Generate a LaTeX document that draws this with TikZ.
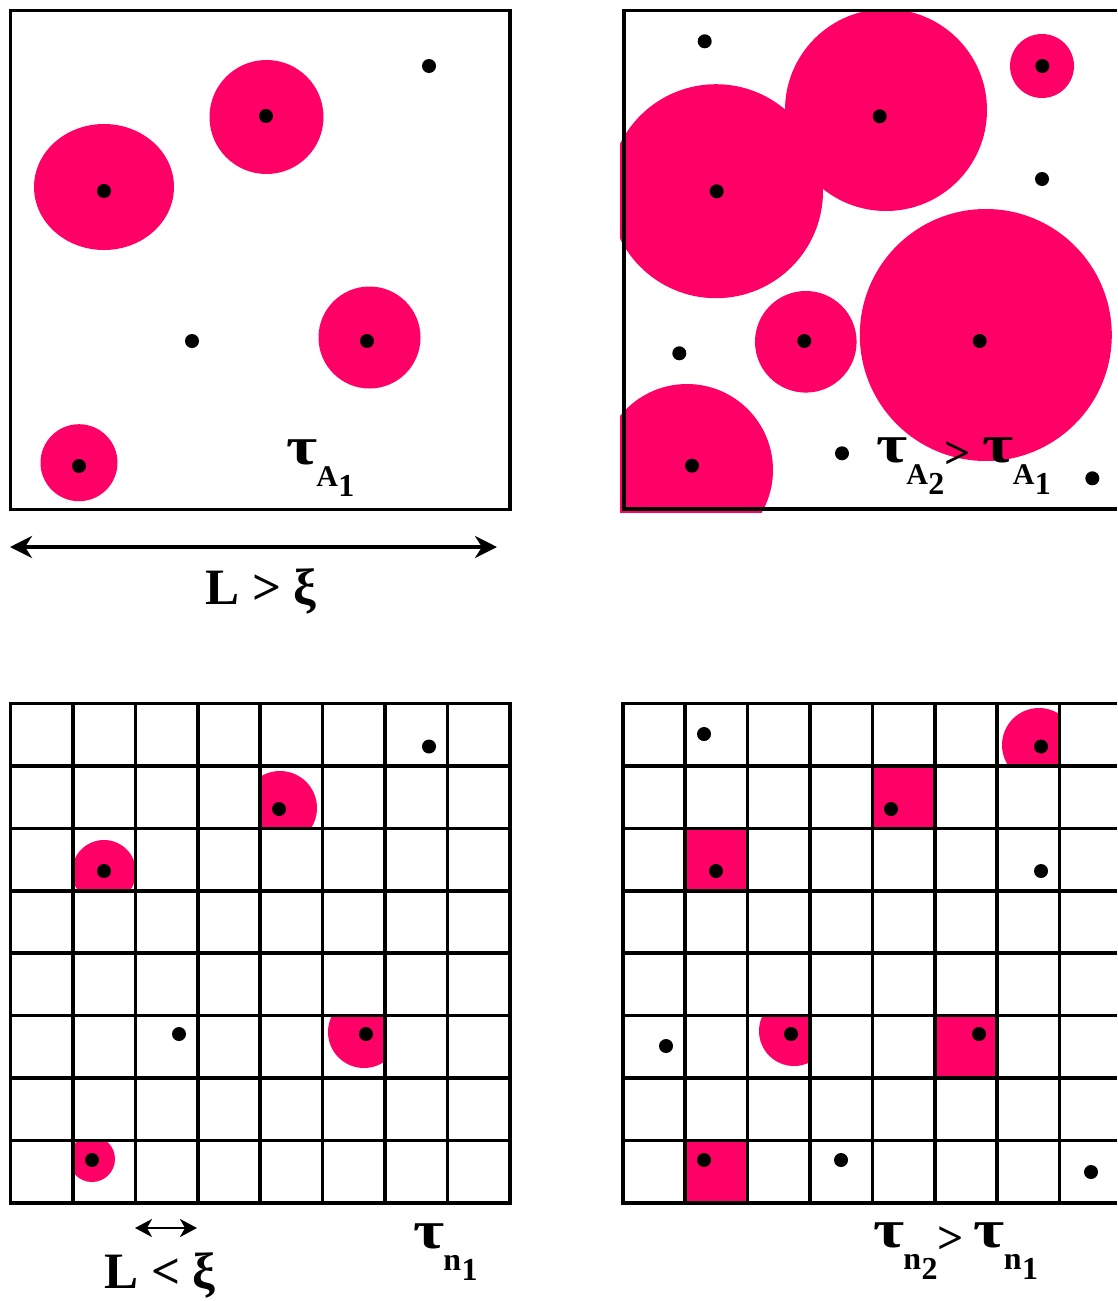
\documentclass[tikz,border=0pt]{standalone}
\usepackage{fontspec}
\setmainfont{Liberation Serif}
\usetikzlibrary{arrows.meta}
\definecolor{pinkc}{RGB}{255,0,102}
\newcommand{\taulab}[3]{\scalebox{1.25}[1]{\fontsize{54}{54}\selectfont τ}\kern-1pt\raisebox{-22pt}{\fontsize{#3}{#3}\selectfont #1}\kern0.5pt\raisebox{-32pt}{\fontsize{32}{32}\selectfont #2}}
\begin{document}
\begin{tikzpicture}[x=1pt,y=-1pt,
  frame/.style={line width=3.8pt},
  gridl/.style={line width=3.6pt},
  blob/.style={fill=pinkc},
  dotc/.style={fill=black},
  lab/.style={inner sep=0pt,font=\bfseries},
  bigarrow/.style={line width=4pt,{Stealth[length=22pt,width=22pt,inset=7pt]}-{Stealth[length=22pt,width=22pt,inset=7pt]}},
  smallarrow/.style={line width=2.6pt,{Stealth[length=17pt,width=18pt,inset=5pt]}-{Stealth[length=17pt,width=18pt,inset=5pt]}}]
\useasboundingbox (0,0) rectangle (1117,1301);
\fill[white] (0,0) rectangle (1117,1301);

% ---------- top left ----------
\fill[blob] (104,187) ellipse[x radius=70pt, y radius=63pt];
\fill[blob] (266.5,117) circle[radius=57pt];
\fill[blob] (369.5,337.5) circle[radius=51pt];
\fill[blob] (79,462.7) circle[radius=38.5pt];
\foreach \p in {(104,191),(266,116),(367,341),(79,466),(429,66),(192,341)}
  \fill[dotc] \p circle[radius=7pt];
\draw[frame] (10.5,10.5) rectangle (509.7,509.5);
\node[lab,anchor=base west] (tA1) at (286,464) {\taulab{A}{1}{30}};

% arrow L > xi
\coordinate (aL) at (10,547);
\coordinate (aR) at (497,547);
\draw[bigarrow] (aL) -- (aR);
\node[lab,anchor=base] (Lgt) at (261,604) {\fontsize{51}{51}\selectfont L > ξ};

% ---------- top right ----------
\begin{scope}
\clip (620,8) rectangle (1117,512);
\fill[blob] (716,191.2) circle[radius=107pt];
\fill[blob] (886,110) circle[radius=101pt];
\fill[blob] (1042,66) circle[radius=32pt];
\fill[blob] (805.8,341.8) circle[radius=50.8pt];
\fill[blob] (985.8,335) circle[radius=126pt];
\fill[blob] (687,470) circle[radius=86pt];
\end{scope}
\foreach \p in {(716.7,191.3),(879.7,116.3),(1042.3,66),(804.3,341),(979.7,341),(692,465.7),
                (704.7,41.3),(1042,179),(679.3,353.3),(842,453.3),(1092.3,478.3)}
  \fill[dotc] \p circle[radius=7pt];
\draw[frame] (1117,10.5) -- (623.7,10.5) -- (623.7,509.3) -- (1117,509.3);
\node[lab,anchor=base west] (tA21) at (876,462)
  {\taulab{A}{2}{30}\kern0pt\raisebox{-6pt}{\fontsize{46}{46}\selectfont >}\kern12pt\taulab{A}{1}{30}};

% ---------- bottom left grid ----------
\begin{scope}
\clip (260,764.9) rectangle (322.4,827.3);
\fill[blob] (280,808) circle[radius=37pt];
\end{scope}
\begin{scope}
\clip (72.9,827.3) rectangle (135.3,889.7);
\fill[blob] (104,872) circle[radius=32pt];
\end{scope}
\begin{scope}
\clip (322.4,1015.1) rectangle (384.9,1077.9);
\fill[blob] (364,1032) circle[radius=36pt];
\end{scope}
\begin{scope}
\clip (72.9,1140.3) rectangle (135.3,1202.7);
\fill[blob] (92,1159) circle[radius=23pt];
\end{scope}
\foreach \i in {1,...,7} {
  \draw[gridl] ({10.5+62.4*\i},703.5) -- ({10.5+62.4*\i},1202.7);
  \draw[gridl] (10.5,{703.5+62.4*\i}) -- (509.7,{703.5+62.4*\i});
}
\draw[frame] (10.5,703.5) rectangle (509.7,1202.7);
\foreach \p in {(429,746.5),(279,809),(104,871),(179,1034),(366,1034),(92,1160)}
  \fill[dotc] \p circle[radius=7pt];
\coordinate (bL) at (135,1228);
\coordinate (bR) at (197,1228);
\draw[smallarrow] (bL) -- (bR);
\node[lab,anchor=base] (Llt) at (160,1288) {\fontsize{51}{51}\selectfont L < ξ};
\node[lab,anchor=base west] (tn1) at (413,1248) {\taulab{n}{1}{32}};

% ---------- bottom right grid ----------
\begin{scope}
\clip (997.1,703.5) rectangle (1059.5,765.9);
\fill[blob] (1039,745) circle[radius=37pt];
\end{scope}
\begin{scope}
\clip (747.5,1015.5) rectangle (809.9,1077.9);
\fill[blob] (794,1031) circle[radius=35pt];
\end{scope}
\fill[blob] (872.3,765.9) rectangle (934.7,828.3);
\fill[blob] (685.1,828.3) rectangle (747.5,890.7);
\fill[blob] (934.7,1015.5) rectangle (997.1,1077.9);
\fill[blob] (685.1,1140.3) rectangle (747.5,1202.7);
\foreach \i in {1,...,7} {
  \draw[gridl] ({622.7+62.4*\i},703.5) -- ({622.7+62.4*\i},1202.7);
  \draw[gridl] (622.7,{703.5+62.4*\i}) -- (1117,{703.5+62.4*\i});
}
\draw[frame] (1117,703.5) -- (622.7,703.5) -- (622.7,1202.7) -- (1117,1202.7);
\foreach \p in {(704,734),(891,809),(716,871),(1041,871),(1041,746.5),(791,1034),(979,1034),
                (666,1046),(704,1160),(841,1160),(1091,1172)}
  \fill[dotc] \p circle[radius=7pt];
\node[lab,anchor=base west] (tn21) at (873,1247)
  {\taulab{n}{2}{32}\kern0pt\raisebox{-6pt}{\fontsize{46}{46}\selectfont >}\kern10pt\taulab{n}{1}{32}};
\end{tikzpicture}
\end{document}
